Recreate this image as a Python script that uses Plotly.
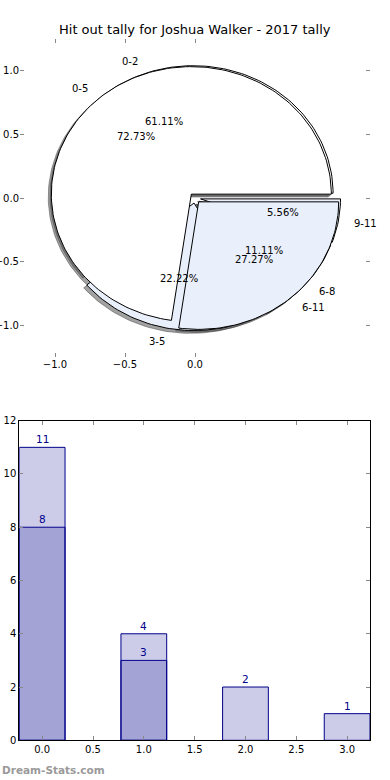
import numpy as np
import plotly.graph_objects as go

# ---------------- data ----------------
title_text = "Hit out tally for Joshua Walker - 2017 tally"
pie1_labels = ["0-2", "3-5", "6-8", "9-11"]
pie1_values = [11, 4, 2, 1]
pie2_labels = ["0-5", "6-11"]
pie2_values = [8, 3]

bar_x = [0, 1, 2, 3]
bar_light = [11, 4, 2, 1]
bar_dark_x = [0, 1]
bar_dark = [8, 3]

pie_xticks = [-1.0, -0.5, 0.0]
pie_yticks = [-1.0, -0.5, 0.0, 0.5, 1.0]
bar_xticks = [0.0, 0.5, 1.0, 1.5, 2.0, 2.5, 3.0]
bar_yticks = [0, 2, 4, 6, 8, 10, 12]

# ---------------- style ----------------
FONT = "DejaVu Sans"
WHITE = "#ffffff"
LBLUE = "#eaf0fb"
EXPLODE = 0.04
SHADOW = (-0.022, -0.022)
NAVY = "#00008b"
H = 780.0

pie1_colors = [WHITE, LBLUE, LBLUE, LBLUE]
pie2_colors = [WHITE, LBLUE]

fig = go.Figure()


def wedges(values, colors):
    total = float(sum(values))
    out = []
    t1 = 0.0
    for v, c in zip(values, colors):
        t2 = t1 + 360.0 * v / total
        mid = np.deg2rad((t1 + t2) / 2)
        cx, cy = EXPLODE * np.cos(mid), EXPLODE * np.sin(mid)
        th = np.deg2rad(np.linspace(t1, t2, max(3, int((t2 - t1) / 1.5))))
        xs = np.concatenate([[cx], cx + np.cos(th), [cx]])
        ys = np.concatenate([[cy], cy + np.sin(th), [cy]])
        out.append(dict(xs=xs, ys=ys, color=c, mid=mid, cx=cx, cy=cy, frac=v / total))
        t1 = t2
    return out


w1 = wedges(pie1_values, pie1_colors)
w2 = wedges(pie2_values, pie2_colors)

# shadows (below all wedges)
for w in w1 + w2:
    fig.add_trace(go.Scatter(
        x=w["xs"] + SHADOW[0], y=w["ys"] + SHADOW[1], mode="lines",
        fill="toself", fillcolor="rgba(70,70,72,0.5)",
        line=dict(color="rgba(70,70,72,0.5)", width=1),
        hoverinfo="skip", showlegend=False, xaxis="x", yaxis="y"))

# wedges
for w in w1 + w2:
    fig.add_trace(go.Scatter(
        x=w["xs"], y=w["ys"], mode="lines", fill="toself", fillcolor=w["color"],
        line=dict(color="black", width=1), hoverinfo="skip", showlegend=False,
        xaxis="x", yaxis="y"))

annotations = []
for labels, ws in ((pie1_labels, w1), (pie2_labels, w2)):
    for lab, w in zip(labels, ws):
        xt = w["cx"] + 1.1 * np.cos(w["mid"])
        yt = w["cy"] + 1.1 * np.sin(w["mid"])
        annotations.append(dict(
            x=xt, y=yt, xref="x", yref="y", text=lab, showarrow=False,
            xanchor="right" if xt < 0 else "left", yanchor="middle",
            font=dict(family=FONT, size=10, color="black")))
        xp = w["cx"] + 0.6 * np.cos(w["mid"])
        yp = w["cy"] + 0.6 * np.sin(w["mid"])
        annotations.append(dict(
            x=xp, y=yp, xref="x", yref="y", text="%.2f%%" % (100 * w["frac"]),
            showarrow=False, xanchor="center", yanchor="middle",
            font=dict(family=FONT, size=10, color="black")))

# ---------------- bars ----------------
fig.add_trace(go.Bar(
    x=bar_x, y=bar_light, width=0.45, marker=dict(color="rgba(0,0,139,0.2)",
    line=dict(color=NAVY, width=1)), hoverinfo="skip", showlegend=False,
    xaxis="x2", yaxis="y2"))
fig.add_trace(go.Bar(
    x=bar_dark_x, y=bar_dark, width=0.45, marker=dict(color="rgba(0,0,139,0.2)",
    line=dict(color=NAVY, width=1)), hoverinfo="skip", showlegend=False,
    xaxis="x2", yaxis="y2"))

for xs, ys in ((bar_x, bar_light), (bar_dark_x, bar_dark)):
    for xv, yv in zip(xs, ys):
        annotations.append(dict(
            x=xv, y=yv, xref="x2", yref="y2", text=str(yv), showarrow=False,
            xanchor="center", yanchor="bottom", yshift=0,
            font=dict(family=FONT, size=10.5, color=NAVY)))

annotations.append(dict(
    x=0.5, y=1 - 30 / H, xref="paper", yref="paper", text=title_text,
    showarrow=False, xanchor="center", yanchor="middle",
    font=dict(family=FONT, size=13, color="black")))
annotations.append(dict(
    x=0, y=1 - 770 / H, xref="paper", yref="paper", text="<b>Dream-Stats.com</b>",
    showarrow=False, xanchor="left", yanchor="middle",
    font=dict(family=FONT, size=10.5, color="#9a9a9a")))

tickfont = dict(family=FONT, size=10, color="black")
common_ticks = dict(ticks="inside", ticklen=4, tickcolor="#888888", tickwidth=1,
                    showgrid=False, zeroline=False, tickfont=tickfont,
                    mirror="allticks", fixedrange=True, automargin=False)

fig.update_layout(
    template="none",
    width=390, height=780, margin=dict(l=0, r=0, t=0, b=0, pad=0),
    paper_bgcolor="white", plot_bgcolor="white", barmode="overlay",
    annotations=annotations,
    xaxis=dict(domain=[20 / 390, 370 / 390], range=[-1.25, 1.25], tickvals=pie_xticks,
               tickformat=".1f", showline=False, anchor="y", **common_ticks),
    yaxis=dict(domain=[1 - 357.4 / H, 1 - 38.6 / H], range=[-1.25, 1.25],
               tickvals=pie_yticks, tickformat=".1f", showline=False, anchor="x",
               **common_ticks),
    xaxis2=dict(domain=[19.3 / 390, 370 / 390], range=[-0.225, 3.225],
                tickvals=bar_xticks, tickformat=".1f", showline=True,
                linecolor="black", linewidth=1, anchor="y2", **common_ticks),
    yaxis2=dict(domain=[1 - 740.3 / H, 1 - 420.7 / H], range=[0, 12],
                tickvals=bar_yticks, showline=True, linecolor="black",
                linewidth=1, anchor="x2", **common_ticks),
)

fig.write_html("out.html")
